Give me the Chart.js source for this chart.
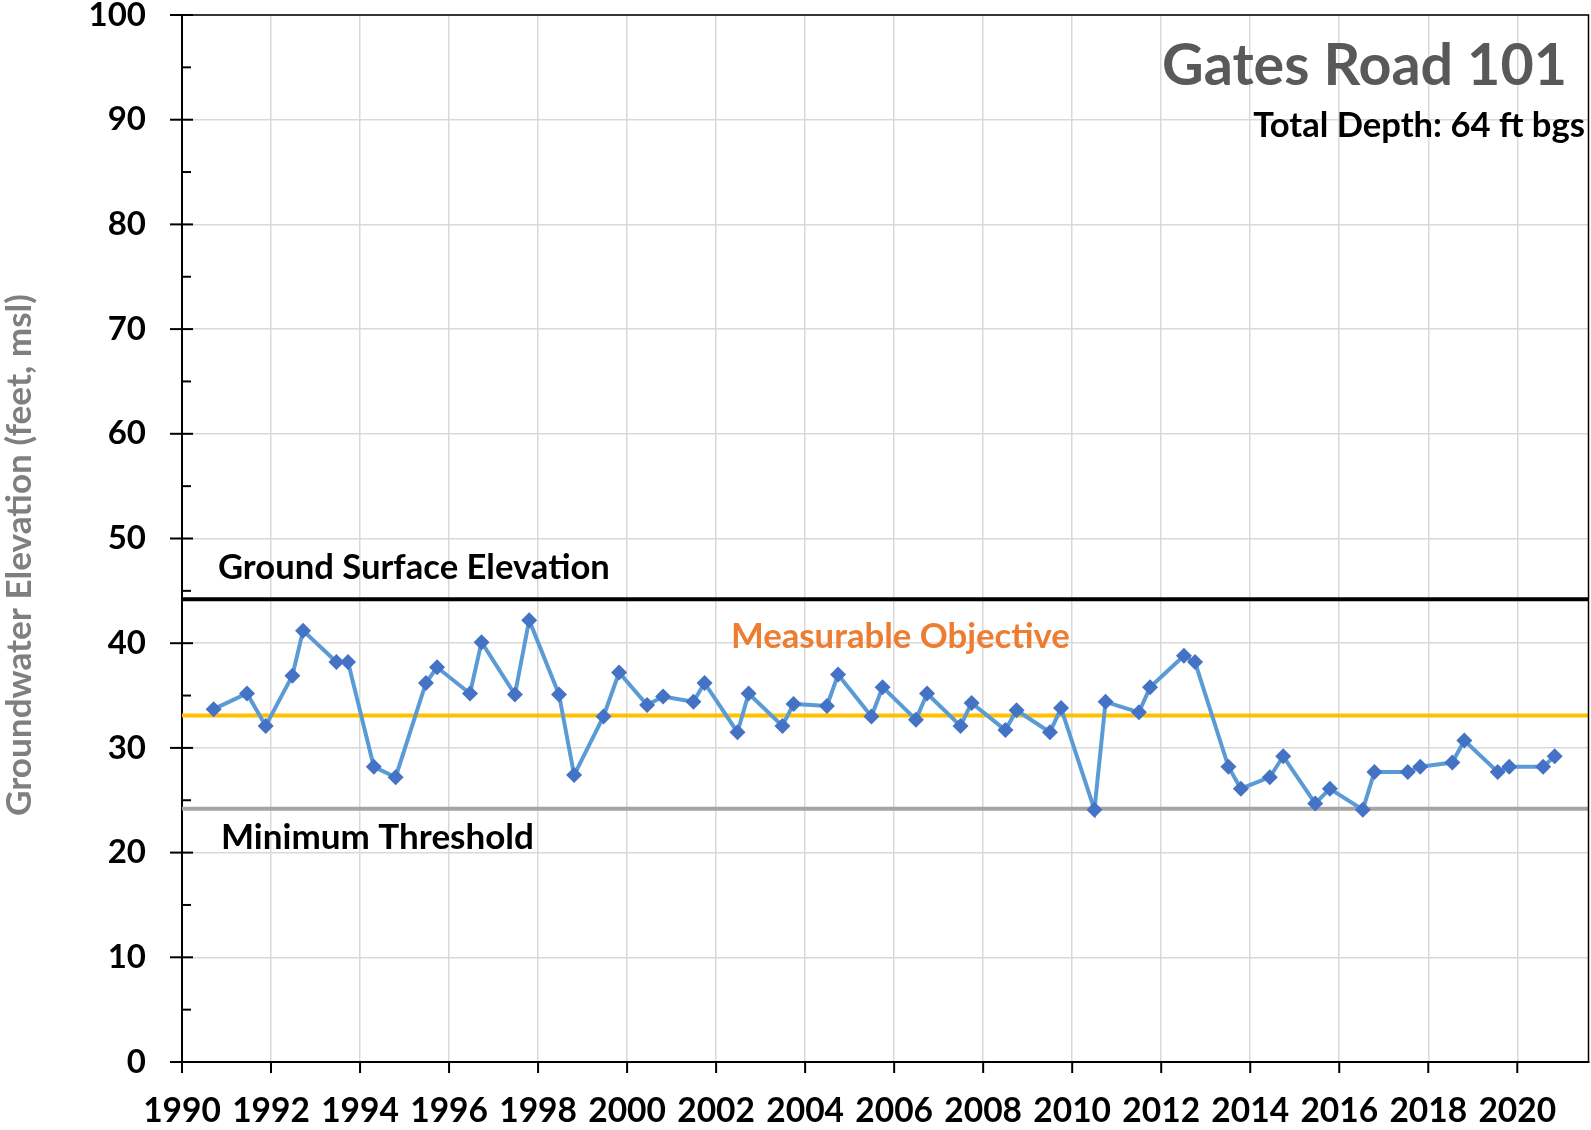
<!DOCTYPE html>
<html>
<head>
<meta charset="utf-8">
<title>Gates Road 101</title>
<script src="https://cdn.jsdelivr.net/npm/chart.js"></script>
<style>
  body { margin: 0; background: #fff; }
  #wrap { width: 1591px; height: 1130px; }
</style>
</head>
<body>
<div id="wrap"><canvas id="grafico" width="1591" height="1130"></canvas></div>
<script>
// Leituras do poço (ano decimal, elevação em ft msl)
const anos = [1990.71, 1991.46, 1991.88, 1992.48, 1992.72, 1993.47, 1993.73, 1994.31, 1994.80, 1995.48,
    1995.73, 1996.47, 1996.73, 1997.48, 1997.80, 1998.47, 1998.81, 1999.47, 1999.82, 2000.45,
    2000.81, 2001.49, 2001.74, 2002.48, 2002.73, 2003.49, 2003.74, 2004.49, 2004.74, 2005.49,
    2005.74, 2006.49, 2006.74, 2007.49, 2007.74, 2008.50, 2008.75, 2009.50, 2009.75, 2010.50,
    2010.75, 2011.50, 2011.75, 2012.51, 2012.76, 2013.51, 2013.79, 2014.44, 2014.74, 2015.46,
    2015.79, 2016.53, 2016.79, 2017.54, 2017.82, 2018.54, 2018.81, 2019.56, 2019.82, 2020.58, 2020.84];
const elevacoes = [33.7, 35.2, 32.1, 36.9, 41.2, 38.2, 38.2, 28.2, 27.2, 36.2,
    37.7, 35.2, 40.1, 35.1, 42.2, 35.1, 27.4, 33.0, 37.2, 34.1,
    34.9, 34.4, 36.2, 31.5, 35.2, 32.1, 34.2, 34.0, 37.0, 33.0,
    35.8, 32.7, 35.2, 32.1, 34.3, 31.7, 33.6, 31.5, 33.8, 24.1,
    34.4, 33.4, 35.8, 38.8, 38.2, 28.2, 26.1, 27.2, 29.2, 24.7,
    26.1, 24.1, 27.7, 27.7, 28.2, 28.6, 30.7, 27.7, 28.2, 28.2, 29.2];

// Linhas de referência
const superficie = 44.2;   // Ground Surface Elevation
const objetivo = 33.1;     // Measurable Objective
const limiteMin = 24.2;    // Minimum Threshold

const anoMin = 1990;
const anoMax = 2021.6;
const passoAno = 2;
const yMin = 0;
const yMax = 100;
const passoY = 10;

const titulo = 'Gates Road 101';
const subtitulo = 'Total Depth: 64 ft bgs';
const tituloY = 'Groundwater Elevation (feet, msl)';

const FONTE = 'Lato, "Open Sans", sans-serif';

function linhaRef(valor) {
    return [{ x: anoMin, y: valor }, { x: anoMax, y: valor }];
}

// ajusta o tamanho da fonte para caber numa largura
function fonteAjustada(ctx, texto, largura) {
    ctx.font = 'bold 100px ' + FONTE;
    const w = ctx.measureText(texto).width;
    return 100 * largura / w;
}

function escreve(ctx, texto, x, y, largura, cor, alinhamento) {
    const tam = fonteAjustada(ctx, texto, largura);
    ctx.font = 'bold ' + tam.toFixed(2) + 'px ' + FONTE;
    ctx.fillStyle = cor;
    ctx.textAlign = alinhamento || 'left';
    ctx.textBaseline = 'alphabetic';
    ctx.fillText(texto, x, y);
}

const extras = {
    id: 'extras',
    afterDraw(chart) {
        const ctx = chart.ctx;
        const area = chart.chartArea;
        const sx = chart.scales.x;
        const sy = chart.scales.y;
        ctx.save();

        // moldura superior e direita
        ctx.strokeStyle = '#000';
        ctx.lineWidth = 1.5;
        ctx.beginPath();
        ctx.moveTo(area.left - 12, area.top);
        ctx.lineTo(area.right, area.top);
        ctx.lineTo(area.right, area.bottom);
        ctx.stroke();

        // marcas do eixo y (principais cruzam o eixo, secundárias por dentro)
        ctx.lineWidth = 2;
        for (let v = yMin; v <= yMax; v += passoY / 2) {
            const py = sy.getPixelForValue(v);
            ctx.beginPath();
            if (v % passoY === 0) {
                ctx.moveTo(area.left - 12, py);
                ctx.lineTo(area.left + 11, py);
            } else {
                ctx.moveTo(area.left, py);
                ctx.lineTo(area.left + 9, py);
            }
            ctx.stroke();
        }
        // marcas do eixo x
        for (let a = anoMin; a <= anoMax; a += passoAno) {
            const px = sx.getPixelForValue(a);
            ctx.beginPath();
            ctx.moveTo(px, area.bottom);
            ctx.lineTo(px, area.bottom + 11);
            ctx.stroke();
        }

        // títulos
        escreve(ctx, titulo, 1567, 85, 405, '#595959', 'right');
        escreve(ctx, subtitulo, 1585, 137, 332, '#000', 'right');

        // rótulos das linhas de referência
        escreve(ctx, 'Ground Surface Elevation', area.left + 36, sy.getPixelForValue(superficie) - 20, 392, '#000');
        escreve(ctx, 'Measurable Objective', area.left + 549, sy.getPixelForValue(objetivo) - 67, 339, '#ED7D31');
        escreve(ctx, 'Minimum Threshold', area.left + 39, sy.getPixelForValue(limiteMin) + 40, 313, '#000');

        // título do eixo y
        ctx.translate(31, 555);
        ctx.rotate(-Math.PI / 2);
        escreve(ctx, tituloY, 0, 0, 522, '#7F7F7F', 'center');

        ctx.restore();
    }
};

const ctx = document.getElementById('grafico').getContext('2d');
const grafico = new Chart(ctx, {
    type: 'line',
    data: {
        datasets: [
            {
                label: 'Groundwater Elevation',
                data: anos.map((a, i) => ({ x: a, y: elevacoes[i] })),
                borderColor: '#5B9BD5',
                borderWidth: 4,
                pointStyle: 'rectRot',
                pointRadius: 8,
                pointBackgroundColor: '#4472C4',
                pointBorderColor: '#4472C4',
                pointBorderWidth: 0,
                tension: 0,
                order: 0
            },
            {
                label: 'Ground Surface Elevation',
                data: linhaRef(superficie),
                borderColor: '#000000',
                borderWidth: 4,
                pointRadius: 0,
                order: 1
            },
            {
                label: 'Measurable Objective',
                data: linhaRef(objetivo),
                borderColor: '#FFC000',
                borderWidth: 4,
                pointRadius: 0,
                order: 1
            },
            {
                label: 'Minimum Threshold',
                data: linhaRef(limiteMin),
                borderColor: '#A5A5A5',
                borderWidth: 4,
                pointRadius: 0,
                order: 1
            }
        ]
    },
    options: {
        responsive: false,
        animation: false,
        layout: { autoPadding: false, padding: { left: 0, top: 15, right: 2.5, bottom: 0 } },
        plugins: {
            legend: { display: false },
            tooltip: { enabled: false }
        },
        scales: {
            x: {
                type: 'linear',
                min: anoMin,
                max: anoMax,
                ticks: {
                    stepSize: passoAno,
                    includeBounds: false,
                    autoSkip: false,
                    maxRotation: 0,
                    padding: 29,
                    color: '#000',
                    font: { family: FONTE, size: 33.5, weight: 'bold' },
                    callback: v => String(v)
                },
                grid: { color: '#D9D9D9', lineWidth: 1.5, drawTicks: false },
                border: { color: '#000', width: 2 },
                afterFit: s => { s.height = 68; s.paddingLeft = 0; s.paddingRight = 0; }
            },
            y: {
                min: yMin,
                max: yMax,
                ticks: {
                    stepSize: passoY,
                    padding: 36,
                    color: '#000',
                    font: { family: FONTE, size: 33, weight: 'bold' }
                },
                grid: { color: '#D9D9D9', lineWidth: 1.5, drawTicks: false },
                border: { color: '#000', width: 2 },
                afterFit: s => { s.width = 182; s.paddingTop = 0; s.paddingBottom = 0; }
            }
        }
    },
    plugins: [extras]
});
</script>
</body>
</html>
